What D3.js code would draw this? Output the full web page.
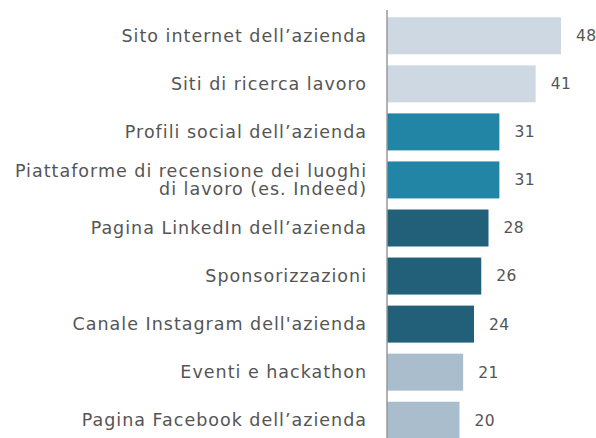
<!DOCTYPE html>
<html>
<head>
<meta charset="utf-8">
<script src="https://cdn.jsdelivr.net/npm/d3@7"></script>
<style>
  body { margin: 0; background: #fff; }
  svg text { font-family: "DejaVu Sans", sans-serif; fill: #555; }
</style>
</head>
<body>
<script>
// Chart data
const categories = [
    ["Sito internet dell\u2019azienda"],
    ["Siti di ricerca lavoro"],
    ["Profili social dell\u2019azienda"],
    ["Piattaforme di recensione dei luoghi", "di lavoro (es. Indeed)"],
    ["Pagina LinkedIn dell\u2019azienda"],
    ["Sponsorizzazioni"],
    ["Canale Instagram dell'azienda"],
    ["Eventi e hackathon"],
    ["Pagina Facebook dell\u2019azienda"]
];
const values = [48, 41, 31, 31, 28, 26, 24, 21, 20];
const groups = ["light", "light", "teal", "teal", "dark", "dark", "dark", "pale", "pale"];

const width = 596, height = 438;
const margin = { top: 17, right: 0, bottom: 0, left: 387 };

const svg = d3.select("body").append("svg")
    .attr("width", width)
    .attr("height", height);

// Scales
const y = d3.scaleBand()
    .domain(d3.range(categories.length))
    .range([margin.top - 5, margin.top - 5 + 48 * categories.length])
    .paddingInner(0.23)
    .paddingOuter(0.11);

const x = d3.scaleLinear()
    .domain([0, 48])
    .range([margin.left, margin.left + 174]);

const color = d3.scaleOrdinal()
    .domain(["light", "teal", "dark", "pale"])
    .range(["#cdd8e2", "#2285a5", "#225f78", "#a9bdcd"]);

// Bars
svg.selectAll("rect.bar")
    .data(values)
    .enter().append("rect")
    .attr("class", "bar")
    .attr("x", x(0))
    .attr("y", (d, i) => y(i))
    .attr("width", d => x(d) - x(0))
    .attr("height", y.bandwidth())
    .attr("fill", (d, i) => color(groups[i]));

// Value labels
svg.selectAll("text.value")
    .data(values)
    .enter().append("text")
    .attr("class", "value")
    .attr("x", d => x(d) + 15)
    .attr("y", (d, i) => y(i) + y.bandwidth() / 2)
    .attr("dy", "0.35em")
    .style("font-size", "15.5px")
    .style("letter-spacing", "0.5px")
    .text(d => d);

// Category labels
const labels = svg.selectAll("text.cat")
    .data(categories)
    .enter().append("text")
    .attr("class", "cat")
    .attr("text-anchor", "end")
    .attr("y", (d, i) => y(i) + y.bandwidth() / 2)
    .style("font-size", "17.5px")
    .style("letter-spacing", "1px");

labels.selectAll("tspan")
    .data(d => d.map((line, j) => ({ line, j, n: d.length })))
    .enter().append("tspan")
    .attr("x", 367)
    .attr("dy", d => d.j === 0 ? (0.35 - (d.n - 1) * 0.52) + "em" : "1.05em")
    .text(d => d.line);

// Axis line
svg.append("line")
    .attr("x1", x(0)).attr("x2", x(0))
    .attr("y1", 10).attr("y2", height)
    .attr("stroke", "#999")
    .attr("stroke-width", 1.5);
</script>
</body>
</html>
